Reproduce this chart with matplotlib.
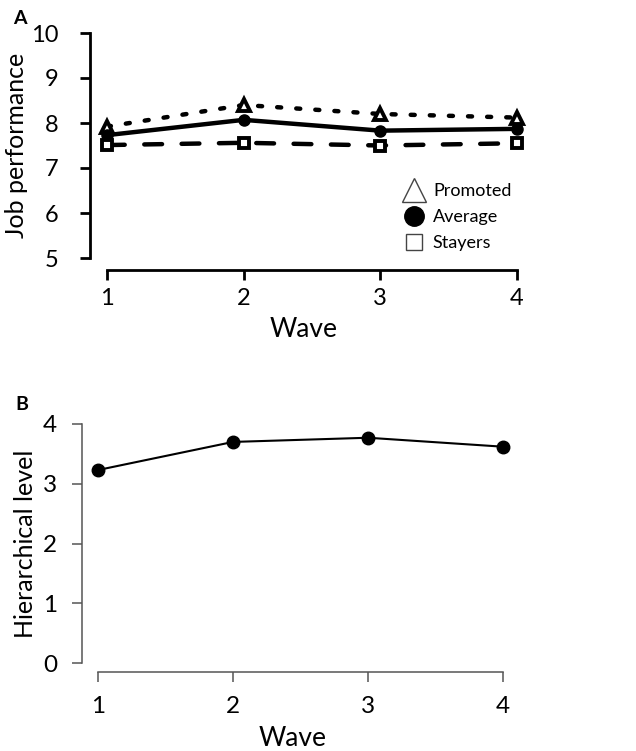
import matplotlib
matplotlib.use("Agg")
import matplotlib.pyplot as plt
from matplotlib.lines import Line2D

plt.rcParams['font.family'] = ['Lato', 'DejaVu Sans']

waves = [1, 2, 3, 4]
promoted = [7.92, 8.40, 8.20, 8.12]
average = [7.73, 8.07, 7.83, 7.87]
stayers = [7.51, 7.56, 7.50, 7.55]
hier_level = [3.23, 3.70, 3.77, 3.62]

W, H = 636, 751
fig = plt.figure(figsize=(W / 100, H / 100), dpi=100)


def px_axes(x0, y_top, x1, y_bot):
    # axes rect from pixel coords of the reference
    return fig.add_axes([x0 / W, 1 - y_bot / H, (x1 - x0) / W, (y_bot - y_top) / H])


# ---- panel A
axA = px_axes(90, 33, 517, 258)
axA.set_xlim(0.876, 4.0)
axA.set_ylim(5, 10)
axA.plot(waves, promoted, color='black', lw=3.2, linestyle=(0, (0.9, 3.4)),
         dash_capstyle='round', marker='^', ms=8, mfc='white', mec='black',
         mew=2.8, clip_on=False, zorder=3)
axA.plot(waves, average, color='black', lw=3.2, marker='o', ms=8,
         mfc='black', mec='black', clip_on=False, zorder=3)
axA.plot(waves, stayers, color='black', lw=3.2, linestyle=(0, (4.0, 4.4)),
         dash_capstyle='round', marker='s', ms=7, mfc='white', mec='black',
         mew=2.8, clip_on=False, zorder=3)

for s in ['top', 'right']:
    axA.spines[s].set_visible(False)
axA.spines['left'].set_linewidth(2)
axA.spines['bottom'].set_linewidth(2)
axA.spines['bottom'].set_position(('outward', 8.6))
axA.spines['bottom'].set_bounds(1, 4)
axA.set_xticks(waves)
axA.set_yticks([5, 6, 7, 8, 9, 10])
axA.tick_params(width=2, length=7, labelsize=17)
axA.tick_params(axis='x', pad=6)
axA.tick_params(axis='y', pad=16)
axA.set_xlabel('Wave', fontsize=19, labelpad=6)
axA.set_ylabel('Job performance', fontsize=18, labelpad=2)

handles = [
    Line2D([], [], ls='none', marker='^', ms=17, mfc='white', mec='#444', mew=1),
    Line2D([], [], ls='none', marker='o', ms=14, mfc='black', mec='black'),
    Line2D([], [], ls='none', marker='s', ms=12, mfc='white', mec='#444', mew=1),
]
axA.legend(handles, ['Promoted', 'Average', 'Stayers'], loc='upper left',
           bbox_to_anchor=(404 / W, 1 - 183 / H), bbox_transform=fig.transFigure,
           frameon=False, fontsize=13, handlelength=1.1, handletextpad=0.5,
           labelspacing=0.55, borderpad=0, borderaxespad=0)

fig.text(13 / W, 1 - 18 / H, 'A', fontsize=14, fontweight='bold', va='center')

# ---- panel B
axB = px_axes(82, 424, 503, 663)
axB.set_xlim(0.881, 4.0)
axB.set_ylim(0, 4)
axB.plot(waves, hier_level, color='black', lw=1.5, marker='o', ms=9,
         clip_on=False, zorder=3)
for s in ['top', 'right']:
    axB.spines[s].set_visible(False)
for s in ['left', 'bottom']:
    axB.spines[s].set_linewidth(1.1)
    axB.spines[s].set_color('#555555')
axB.spines['bottom'].set_position(('outward', 6.5))
axB.spines['bottom'].set_bounds(1, 4)
axB.set_xticks(waves)
axB.set_yticks([0, 1, 2, 3, 4])
axB.tick_params(width=1.1, length=7, color='#555555', labelsize=17.5)
axB.tick_params(axis='x', pad=10)
axB.tick_params(axis='y', pad=11)
axB.set_xlabel('Wave', fontsize=19, labelpad=7)
axB.set_ylabel('Hierarchical level', fontsize=18, labelpad=4)

fig.text(15 / W, 1 - 405 / H, 'B', fontsize=14, fontweight='bold', va='center')

fig.savefig('out.png', dpi=100)
